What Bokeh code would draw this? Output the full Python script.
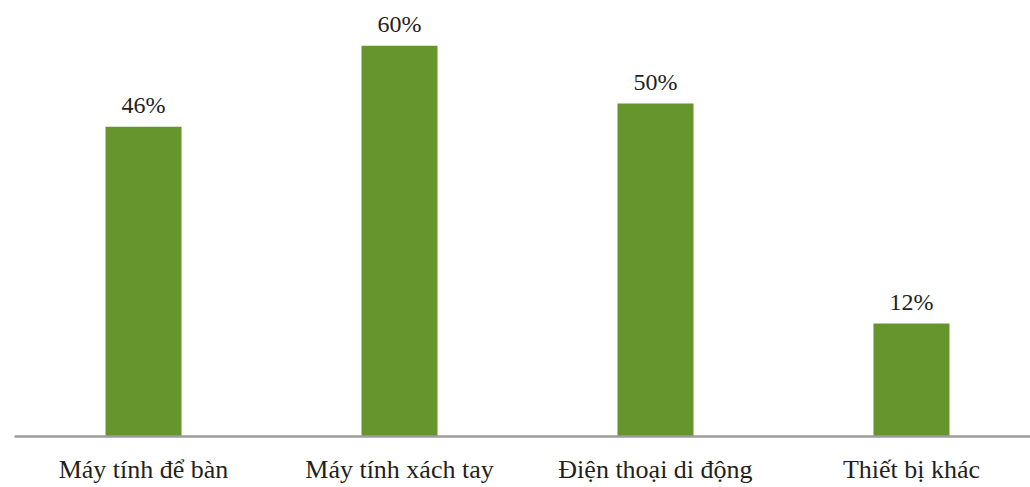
from bokeh.plotting import figure
from bokeh.models import ColumnDataSource, FixedTicker, Range1d
from bokeh.core.properties import value
from bokeh.embed import file_html
from bokeh.resources import INLINE

categories = ["Máy tính để bàn", "Máy tính xách tay", "Điện thoại di động", "Thiết bị khác"]
shares = [46, 60, 50, 12]
labels = [f"{v}%" for v in shares]

BASE = -7.5
src = ColumnDataSource(data=dict(
    x=list(range(len(categories))),
    top=shares,
    label=labels,
))

p = figure(width=1030, height=487, output_backend="svg", toolbar_location=None,
           x_range=Range1d(-0.504, 3.465), y_range=Range1d(BASE, 67.8),
           min_border_left=14, min_border_right=0, min_border_top=0, min_border_bottom=51)
p.outline_line_color = None
p.background_fill_color = "white"
p.border_fill_color = "white"
p.grid.visible = False
p.yaxis.visible = False

p.vbar(x="x", top="top", bottom=BASE, width=0.297, source=src,
       fill_color="#67952d", line_color=None)
p.text(x="x", y="top", text="label", source=src, text_align="center",
       text_baseline="bottom", y_offset=-9, text_font=value("Liberation Serif"),
       text_font_size="24px", text_color="#231f20")

xa = p.xaxis[0]
xa.ticker = FixedTicker(ticks=list(range(len(categories))))
xa.major_label_overrides = {i: c for i, c in enumerate(categories)}
xa.axis_line_color = "#9d9d9f"
xa.axis_line_width = 2.5
xa.major_tick_line_color = None
xa.minor_tick_line_color = None
xa.major_label_standoff = 12
xa.major_label_text_font = "Liberation Serif"
xa.major_label_text_font_size = "26px"
xa.major_label_text_color = "#231f20"

open("out.html", "w").write(file_html(p, INLINE))
